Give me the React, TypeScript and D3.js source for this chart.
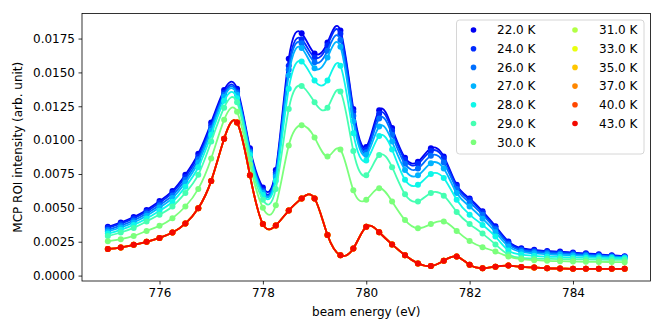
import React, { useRef, useEffect } from "react";
import * as d3 from "d3";

// beam energy grid (eV)
const energy = [
  775.0, 775.25, 775.5, 775.75, 776.0, 776.25, 776.5, 776.75, 777.0, 777.25,
  777.5, 777.75, 778.0, 778.25, 778.5, 778.75, 779.0, 779.25, 779.5, 779.75,
  780.0, 780.25, 780.5, 780.75, 781.0, 781.25, 781.5, 781.75, 782.0, 782.25,
  782.5, 782.75, 783.0, 783.25, 783.5, 783.75, 784.0, 784.25, 784.5, 784.75, 785.0,
];

const labels = ["22.0 K", "24.0 K", "26.0 K", "27.0 K", "28.0 K", "29.0 K", "30.0 K",
  "31.0 K", "33.0 K", "35.0 K", "37.0 K", "40.0 K", "43.0 K"];

const t22 = [
  0.0036, 0.00392, 0.00432, 0.00485, 0.0055, 0.00625, 0.00745, 0.009, 0.0113, 0.0137,
  0.0138, 0.0094, 0.0065, 0.0078, 0.016, 0.0179, 0.0164, 0.0172, 0.0181, 0.0123,
  0.0095, 0.0122, 0.0109, 0.0087, 0.0084, 0.0094, 0.0088, 0.0067, 0.0057, 0.00475,
  0.00365, 0.00252, 0.00202, 0.0019, 0.00182, 0.00177, 0.0017, 0.00164, 0.00157, 0.0015, 0.00143,
];
const t24 = [
  0.00352, 0.00383, 0.00422, 0.00473, 0.00537, 0.00612, 0.00728, 0.0088, 0.0111, 0.0135,
  0.0136, 0.00925, 0.0063, 0.0076, 0.0155, 0.01745, 0.0161, 0.017, 0.01785, 0.0121,
  0.0093, 0.01195, 0.0107, 0.00855, 0.00825, 0.0092, 0.00865, 0.0066, 0.0056, 0.00465,
  0.00355, 0.00245, 0.00195, 0.00184, 0.00176, 0.00171, 0.00165, 0.00159, 0.00152, 0.00146, 0.00139,
];
const t26 = [
  0.00338, 0.00369, 0.00407, 0.00458, 0.0052, 0.00592, 0.00707, 0.00858, 0.0109, 0.01335,
  0.01348, 0.00915, 0.0062, 0.00745, 0.0152, 0.01715, 0.01575, 0.0166, 0.0174, 0.0118,
  0.0091, 0.0116, 0.0104, 0.00825, 0.0079, 0.00885, 0.00835, 0.0064, 0.0054, 0.0045,
  0.00342, 0.00232, 0.00187, 0.00176, 0.00168, 0.00163, 0.00158, 0.00153, 0.00147, 0.00141, 0.00136,
];
const t27 = [
  0.00325, 0.00355, 0.00392, 0.00442, 0.00502, 0.00572, 0.00685, 0.00835, 0.0107, 0.0132,
  0.01335, 0.00905, 0.0061, 0.0073, 0.0148, 0.0168, 0.0153, 0.0161, 0.0169, 0.0114,
  0.0089, 0.011, 0.0099, 0.0078, 0.0074, 0.0083, 0.0079, 0.0061, 0.0051, 0.0042,
  0.0032, 0.00215, 0.00175, 0.00164, 0.00157, 0.00153, 0.00149, 0.00145, 0.00141, 0.00137, 0.00133,
];
const t28 = [
  0.0031, 0.00338, 0.00374, 0.00422, 0.00478, 0.00545, 0.00655, 0.008, 0.0104, 0.0129,
  0.0131, 0.0089, 0.00595, 0.007, 0.0138, 0.0158, 0.0144, 0.0144, 0.0155, 0.0105,
  0.0085, 0.0103, 0.0093, 0.00707, 0.0067, 0.0075, 0.0072, 0.0056, 0.0045, 0.00374,
  0.00288, 0.00185, 0.00155, 0.00146, 0.0014, 0.00137, 0.00134, 0.00132, 0.0013, 0.00129, 0.00128,
];
const t29 = [
  0.00292, 0.00318, 0.00352, 0.004, 0.0045, 0.0051, 0.0061, 0.00745, 0.0099, 0.0124,
  0.0128, 0.0086, 0.0056, 0.0064, 0.0123, 0.014, 0.0128, 0.0124, 0.0136, 0.0092,
  0.0074, 0.0089, 0.008, 0.006, 0.00547, 0.0061, 0.0059, 0.0047, 0.0038, 0.0031,
  0.0023, 0.00155, 0.0013, 0.00126, 0.00124, 0.00122, 0.0012, 0.00119, 0.00118, 0.00117, 0.00116,
];
const t30 = [
  0.00253, 0.00269, 0.00293, 0.0033, 0.00367, 0.00424, 0.0051, 0.0064, 0.00865, 0.0115,
  0.0121, 0.0082, 0.005, 0.0052, 0.0096, 0.0111, 0.0102, 0.0088, 0.0093, 0.0063,
  0.0056, 0.00645, 0.00547, 0.0041, 0.0035, 0.0038, 0.004, 0.0033, 0.00256, 0.0021,
  0.00177, 0.0014, 0.00121, 0.00114, 0.00109, 0.00106, 0.00104, 0.00102, 0.00101, 0.001, 0.00099,
];
// 31 K .. 43 K lie on top of each other
const tHigh = [
  0.00197, 0.00207, 0.00227, 0.00249, 0.00278, 0.00318, 0.00384, 0.00497, 0.00699, 0.0101,
  0.0113, 0.0074, 0.0038, 0.0037, 0.0048, 0.0057, 0.0057, 0.003, 0.0015, 0.002,
  0.0036, 0.0032, 0.0023, 0.0015, 0.0009, 0.0007, 0.0011, 0.0014, 0.0008, 0.00055,
  0.00066, 0.00074, 0.00064, 0.0006, 0.00054, 0.00052, 0.0005, 0.0005, 0.0005, 0.0005, 0.0005,
];

const series = [t22, t24, t26, t27, t28, t29, t30, tHigh, tHigh, tHigh, tHigh, tHigh, tHigh];

const xTicks = [776, 778, 780, 782, 784];
const yTicks = [0, 0.0025, 0.005, 0.0075, 0.01, 0.0125, 0.015, 0.0175];

// matplotlib jet
const seg = (pts: number[][], t: number) => {
  for (let i = 1; i < pts.length; i++) {
    if (t <= pts[i][0]) {
      const [x0, y0] = pts[i - 1];
      const [x1, y1] = pts[i];
      return y0 + ((t - x0) / (x1 - x0)) * (y1 - y0);
    }
  }
  return pts[pts.length - 1][1];
};
const jet = (t: number) => {
  const r = seg([[0, 0], [0.35, 0], [0.66, 1], [0.89, 1], [1, 0.5]], t);
  const g = seg([[0, 0], [0.125, 0], [0.375, 1], [0.64, 1], [0.91, 0], [1, 0]], t);
  const b = seg([[0, 0.5], [0.11, 1], [0.34, 1], [0.65, 0], [1, 0]], t);
  return d3.rgb(r * 255, g * 255, b * 255).formatHex();
};

const App = () => {
  const ref = useRef<SVGSVGElement>(null);

  useEffect(() => {
    const svgWidth = 664;
    const svgHeight = 332;
    const margin = { top: 13.5, right: 13.5, bottom: 51, left: 82 };
    const font = "DejaVu Sans, sans-serif";

    const svg = d3.select(ref.current)
      .attr("width", svgWidth)
      .attr("height", svgHeight);
    svg.selectAll("*").remove();

    const xScale = d3.scaleLinear()
      .domain([774.5, 785.5])
      .range([margin.left, svgWidth - margin.right]);
    const yScale = d3.scaleLinear()
      .domain([-0.0004, 0.01935])
      .range([svgHeight - margin.bottom, margin.top]);

    // colours spread over 0.1 .. 0.9 of jet
    const colors = labels.map((_, i) => jet(0.1 + (0.8 * i) / (labels.length - 1)));

    const line = d3.line<number>()
      .x((_, i) => xScale(energy[i]))
      .y(d => yScale(d))
      .curve(d3.curveNatural);

    const plot = svg.append("g");
    series.forEach((vals, i) => {
      const g = plot.append("g");
      g.selectAll("circle")
        .data(vals)
        .enter()
        .append("circle")
        .attr("cx", (_, j) => xScale(energy[j]))
        .attr("cy", d => yScale(d))
        .attr("r", 3)
        .attr("fill", colors[i]);
      g.append("path")
        .attr("d", line(vals))
        .attr("fill", "none")
        .attr("stroke", colors[i])
        .attr("stroke-width", 1.8);
    });

    // X axis
    const xAxis = svg.append("g")
      .attr("transform", `translate(0,${svgHeight - margin.bottom})`)
      .call(d3.axisBottom(xScale).tickValues(xTicks).tickSize(3.5).tickPadding(3.5)
        .tickFormat(d => String(d)));
    // Y axis
    const yAxis = svg.append("g")
      .attr("transform", `translate(${margin.left},0)`)
      .call(d3.axisLeft(yScale).tickValues(yTicks).tickSize(3.5).tickPadding(3.5)
        .tickFormat(d => (d as number).toFixed(4)));

    [xAxis, yAxis].forEach(ax => {
      ax.select(".domain").remove();
      ax.selectAll("line").attr("stroke", "#000").attr("stroke-width", 0.8);
      ax.selectAll("text")
        .attr("fill", "#000")
        .style("font-family", font)
        .style("font-size", "12px");
    });

    // Frame
    svg.append("rect")
      .attr("x", margin.left)
      .attr("y", margin.top)
      .attr("width", svgWidth - margin.right - margin.left)
      .attr("height", svgHeight - margin.bottom - margin.top)
      .attr("fill", "none")
      .attr("stroke", "#000")
      .attr("stroke-width", 0.8);

    // Axis labels
    svg.append("text")
      .attr("x", (margin.left + svgWidth - margin.right) / 2)
      .attr("y", 316)
      .attr("text-anchor", "middle")
      .style("font-family", font)
      .style("font-size", "12px")
      .text("beam energy (eV)");

    svg.append("text")
      .attr("transform", `translate(22,${(margin.top + svgHeight - margin.bottom) / 2}) rotate(-90)`)
      .attr("text-anchor", "middle")
      .style("font-family", font)
      .style("font-size", "12px")
      .text("MCP ROI intensity (arb. unit)");

    // Legend
    const legend = svg.append("g");
    legend.append("rect")
      .attr("x", 456.5)
      .attr("y", 20)
      .attr("width", 187.5)
      .attr("height", 134)
      .attr("rx", 3)
      .attr("fill", "rgba(255,255,255,0.8)")
      .attr("stroke", "#cccccc")
      .attr("stroke-width", 0.8);
    labels.forEach((lab, i) => {
      const col = i < 7 ? 0 : 1;
      const row = i < 7 ? i : i - 7;
      const cy = 30 + row * 18.7;
      legend.append("circle")
        .attr("cx", col === 0 ? 473.5 : 575)
        .attr("cy", cy)
        .attr("r", 2.8)
        .attr("fill", colors[i]);
      legend.append("text")
        .attr("x", col === 0 ? 497 : 599)
        .attr("y", cy + 4.3)
        .style("font-family", font)
        .style("font-size", "12px")
        .text(lab);
    });
  }, []);

  return (
    <div style={{ position: "absolute", left: 0, top: 0 }}>
      <svg ref={ref}></svg>
    </div>
  );
};

export default App;
